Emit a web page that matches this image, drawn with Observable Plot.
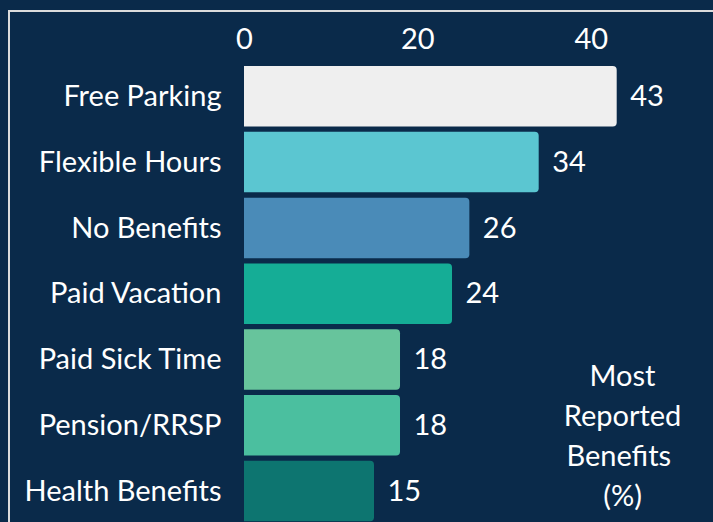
<!DOCTYPE html>
<html>
<head>
<meta charset="utf-8">
<script src="https://cdn.jsdelivr.net/npm/d3@7"></script>
<script src="https://cdn.jsdelivr.net/npm/@observablehq/plot@0.6"></script>
<style>
  html, body { margin: 0; padding: 0; background: #0a2a4a; overflow: hidden; width: 713px; height: 522px; }
  #frame { position: absolute; left: 8px; top: 10px; width: 800px; height: 600px; border-top: 2px solid #dcdcdc; border-left: 2px solid #dcdcdc; }
  #chart { position: absolute; left: 0; top: 0; }
</style>
</head>
<body>
<div id="frame"></div>
<div id="chart"></div>
<script>
const categories = ["Free Parking", "Flexible Hours", "No Benefits", "Paid Vacation", "Paid Sick Time", "Pension/RRSP", "Health Benefits"];
const values = [43, 34, 26, 24, 18, 18, 15];
const colors = ["#efefef", "#5bc6d1", "#4a8bb8", "#15ad96", "#67c49c", "#4bbf9f", "#0d7570"];
const xTicks = [0, 20, 40];
const axisLabel = "Most\nReported\nBenefits \n(%)";

const data = categories.map((c, i) => ({category: c, value: values[i], color: colors[i]}));

const FS = 29;
const chart = Plot.plot({
  width: 713,
  height: 522,
  marginTop: 63,
  marginBottom: 0,
  marginLeft: 244,
  marginRight: 0,
  style: {background: "none", color: "white", fontFamily: "Lato", fontSize: FS + "px"},
  x: {domain: [0, 43], range: [244, 616.7], ticks: xTicks},
  y: {domain: categories, range: [63.4, 524], paddingInner: 0.08, paddingOuter: 0.04, round: false},
  marks: [
    Plot.barX(data, {x: "value", y: "category", fill: "color", rx2: 4}),
    Plot.text(data, {x: "value", y: "category", text: d => String(d.value), textAnchor: "start", dx: 13, fill: "white", fontSize: FS}),
    Plot.axisX({anchor: "top", ticks: xTicks, tickSize: 0, tickPadding: 15, label: null, fontSize: FS}),
    Plot.axisY({anchor: "left", tickSize: 0, tickPadding: 23, label: null, fontSize: FS}),
    Plot.text([axisLabel], {frameAnchor: "right", text: d => d, textAnchor: "middle", lineAnchor: "middle", dx: -91, dy: 140, lineHeight: 40 / FS, fill: "white", fontSize: FS})
  ]
});
document.getElementById("chart").appendChild(chart);
</script>
</body>
</html>
